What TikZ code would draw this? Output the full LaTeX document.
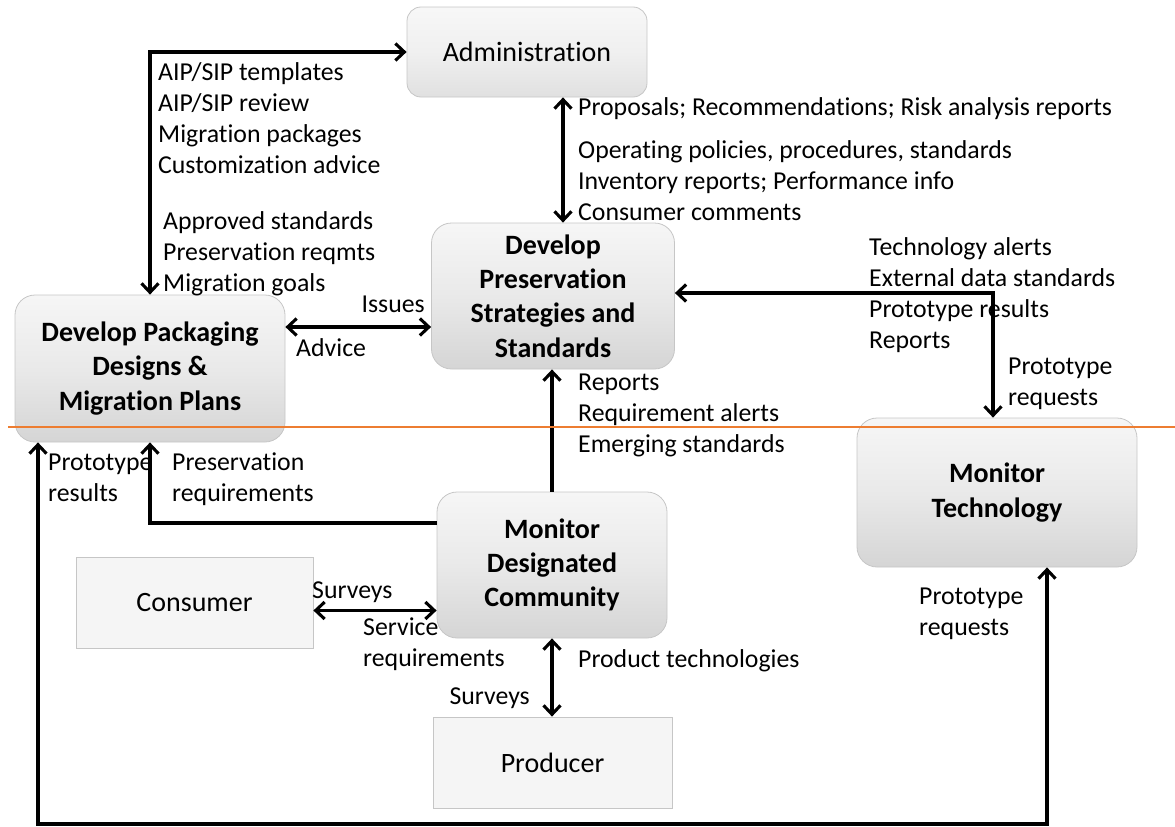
\documentclass[tikz,border=0pt]{standalone}
\usepackage{fontspec}
\setmainfont{Carlito}[Ligatures=NoCommon]
\usetikzlibrary{arrows.meta,calc}
\definecolor{lineorange}{RGB}{237,125,49}
\newcommand{\lblfont}{\fontsize{25.8}{31}\selectfont}
\newcommand{\boldfont}{\bfseries\fontsize{28}{34.3}\selectfont}
\newcommand{\plainfont}{\fontsize{28}{34}\selectfont}
\tikzset{
  procbox/.style={rounded corners=20pt, draw=gray!45, line width=0.8pt,
    top color=gray!7, bottom color=gray!33, middle color=gray!17,
    align=center, inner sep=0pt, font=\boldfont},
  adminbox/.style={procbox, rounded corners=14pt, font=\plainfont,
    top color=gray!6, bottom color=gray!24, middle color=gray!12},
  extbox/.style={draw=gray!45, line width=0.8pt, fill=gray!8,
    align=center, inner sep=0pt, font=\plainfont},
  conn/.style={line width=3.1pt, >={Straight Barb[length=9pt,width=17pt]}},
  lbl/.style={anchor=north west, inner sep=0pt, align=left, font=\lblfont, yshift=14pt},
  lblr/.style={anchor=north east, inner sep=0pt, align=right, font=\lblfont, yshift=14pt},
}
\begin{document}
\begin{tikzpicture}[x=1pt,y=-1pt]
\useasboundingbox (0,0) rectangle (1175,827);

% boxes
\node[adminbox, minimum width=240pt, minimum height=90pt] (admin) at (527,52) {Administration};
\node[procbox, minimum width=243pt, minimum height=146pt] (pres) at (553,296)
  {Develop\\Preservation\\Strategies and\\Standards};
\node[procbox, minimum width=270pt, minimum height=147pt] (pack) at (150,368.5)
  {Develop Packaging\\Designs \&\\Migration Plans};
\node[procbox, minimum width=280pt, minimum height=149pt] (tech) at (997,492.5)
  {Monitor\\Technology};
\node[procbox, minimum width=230pt, minimum height=146pt] (mdc) at (552,565)
  {Monitor\\Designated\\Community};
\node[extbox, minimum width=237pt, minimum height=91pt] (cons) at (194.5,602.5) {Consumer};
\node[extbox, minimum width=239pt, minimum height=91pt] (prod) at (552.5,762.5) {Producer};

\coordinate (bl) at (38,824);
\coordinate (br) at (1047,824);

% connectors
\draw[conn,<->] (admin.west) -| (pack.north);
\draw[conn,<->] ([xshift=36pt]admin.south) -- ([xshift=36pt]admin.south |- pres.north);
\draw[conn,<->] ([yshift=-31pt]pres.west) -- ([yshift=-31pt]pres.west -| pack.east);
\draw[conn,<->] ([yshift=3pt]pres.east) -| ([xshift=-4pt]tech.north);
\draw[conn,->] (mdc.north) -- (mdc.north |- pres.south);
\draw[conn,->] ([yshift=42pt]mdc.west) -| (pack.south);
\draw[conn,<->] ([yshift=-8pt]cons.east) -- ([yshift=-8pt]cons.east -| mdc.west);
\draw[conn,<->] (mdc.south) -- (mdc.south |- prod.north);
\draw[conn,<->] (bl |- pack.south) -- (bl) -- (br) -- (br |- tech.south);

% labels
\node[lbl] (l1) at (158,73) {\strut AIP/SIP templates\\AIP/SIP review\\Migration packages\\Customization advice};
\node[lbl] (l2) at (163,222) {\strut Approved standards\\Preservation reqmts\\Migration goals};
\node[lblr] (l3) at (425,305) {\strut Issues};
\node[lbl] (l4) at (296,349) {\strut Advice};
\node[lbl] (l5) at (578,108) {\strut Proposals; Recommendations; Risk analysis reports};
\node[lbl] (l6) at (578,151) {\strut Operating policies, procedures, standards\\Inventory reports; Performance info\\Consumer comments};
\node[lbl] (l7) at (869,248) {\strut Technology alerts\\External data standards\\Prototype results\\Reports};
\node[lbl] (l8) at (1008,367) {\strut Prototype\\requests};
\node[lbl] (l9) at (578,383) {\strut Reports\\Requirement alerts\\Emerging standards};
\node[lbl] (l10) at (48,463) {\strut Prototype\\results};
\node[lbl] (l11) at (172,463) {\strut Preservation\\requirements};
\node[lbl] (l12) at (312,591) {\strut Surveys};
\node[lbl] (l13) at (363,628) {\strut Service\\requirements};
\node[lbl] (l14) at (578,660) {\strut Product technologies};
\node[lblr] (l15) at (530,697) {\strut Surveys};
\node[lbl] (l16) at (919,597) {\strut Prototype\\requests};

% orange divider
\draw[lineorange, line width=2pt] (8,427) -- (1175,427);
\end{tikzpicture}
\end{document}
